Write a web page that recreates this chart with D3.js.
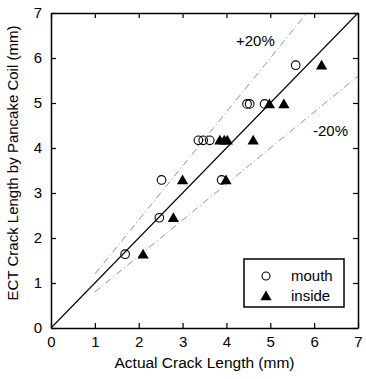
<!DOCTYPE html>
<html><head><meta charset="utf-8">
<script src="https://cdn.jsdelivr.net/npm/d3@7"></script>
<style>body{margin:0;background:#fff}svg{display:block}text{font-family:"Liberation Sans",Arial,sans-serif;fill:#000}</style>
</head><body>
<script>
const ticks = [0,1,2,3,4,5,6,7];
const mouthX = [1.69, 2.47, 2.52, 3.36, 3.47, 3.62, 3.89, 4.47, 4.53, 4.87, 5.58];
const mouthY = [1.64, 2.45, 3.29, 4.17, 4.17, 4.17, 3.29, 4.98, 4.98, 4.98, 5.84];
const insideX = [2.10, 2.79, 3.00, 3.85, 3.95, 4.02, 3.99, 4.61, 4.98, 5.31, 6.17];
const insideY = [1.64, 2.45, 3.29, 4.17, 4.17, 4.17, 3.29, 4.17, 4.98, 4.98, 5.84];
const refLines = [{k:1.2, label:"+20%"},{k:0.8,label:"-20%"}];

const W=366,H=379;
const svg=d3.select("body").append("svg").attr("width",W).attr("height",H);
const x=d3.scaleLinear().domain([0,7]).range([51,358]);
const y=d3.scaleLinear().domain([0,7]).range([328,13]);

// dashed +/-20% lines
const line=d3.line().x(d=>x(d[0])).y(d=>y(d[1]));
refLines.forEach(r=>{
  const x1=1, x2=Math.min(7,7/r.k);
  svg.append("path").attr("d",line([[x1,r.k*x1],[x2,r.k*x2]]))
    .attr("fill","none").attr("stroke","#777").attr("stroke-width",0.8)
    .attr("stroke-dasharray","7,3,1,3");
});
svg.append("text").attr("x",236).attr("y",46).attr("font-size",15).text(refLines[0].label);
svg.append("text").attr("x",313).attr("y",136).attr("font-size",15).text(refLines[1].label);

// y = x line
svg.append("path").attr("d",line([[0,0],[7,7]])).attr("stroke","#000").attr("stroke-width",1.1).attr("fill","none");

// axes
const ax=svg.append("g");
ax.append("g").attr("transform",`translate(0,${y(0)})`).call(d3.axisBottom(x).tickValues(ticks).tickSizeInner(-5).tickSizeOuter(0).tickPadding(8).tickFormat(d3.format("d")));
ax.append("g").attr("transform",`translate(0,${y(7)})`).call(d3.axisTop(x).tickValues(ticks).tickSizeInner(-5).tickSizeOuter(0).tickFormat(""));
ax.append("g").attr("transform",`translate(${x(0)},0)`).call(d3.axisLeft(y).tickValues(ticks).tickSizeInner(-5).tickSizeOuter(0).tickPadding(9).tickFormat(d3.format("d")));
ax.append("g").attr("transform",`translate(${x(7)},0)`).call(d3.axisRight(y).tickValues(ticks).tickSizeInner(-5).tickSizeOuter(0).tickFormat(""));
ax.selectAll(".domain").attr("stroke","#000").attr("stroke-width",1.5);
ax.selectAll(".tick line").attr("stroke","#000").attr("stroke-width",1.2);
ax.selectAll(".tick text").attr("font-size",15).attr("font-family","Liberation Sans, Arial, sans-serif").attr("fill","#000");

// points
const tri=d3.symbol().type(d3.symbolTriangle).size(55);
svg.append("g").selectAll("path").data(insideX.map((v,i)=>[v,insideY[i]])).join("path")
  .attr("d",tri).attr("transform",d=>`translate(${x(d[0])},${y(d[1])+1})`).attr("fill","#000");
svg.append("g").selectAll("circle").data(mouthX.map((v,i)=>[v,mouthY[i]])).join("circle")
  .attr("cx",d=>x(d[0])).attr("cy",d=>y(d[1])).attr("r",4.3)
  .attr("fill","none").attr("stroke","#000").attr("stroke-width",1.1);

// legend
const lg=svg.append("g");
lg.append("rect").attr("x",244).attr("y",259).attr("width",100).attr("height",48).attr("fill","#fff").attr("stroke","#000").attr("stroke-width",1.5);
lg.append("circle").attr("cx",266).attr("cy",276).attr("r",4).attr("fill","none").attr("stroke","#000").attr("stroke-width",1.1);
lg.append("path").attr("d",tri).attr("transform","translate(266,297)").attr("fill","#000");
lg.append("text").attr("x",291).attr("y",281).attr("font-size",15).text("mouth");
lg.append("text").attr("x",291).attr("y",301).attr("font-size",15).text("inside");

// axis titles
svg.append("text").attr("x",x(3.5)).attr("y",368).attr("text-anchor","middle").attr("font-size",15.5).text("Actual Crack Length (mm)");
svg.append("text").attr("transform",`translate(18,163) rotate(-90)`).attr("text-anchor","middle").attr("font-size",15).text("ECT Crack Length by Pancake Coil (mm)");
</script>
</body></html>
